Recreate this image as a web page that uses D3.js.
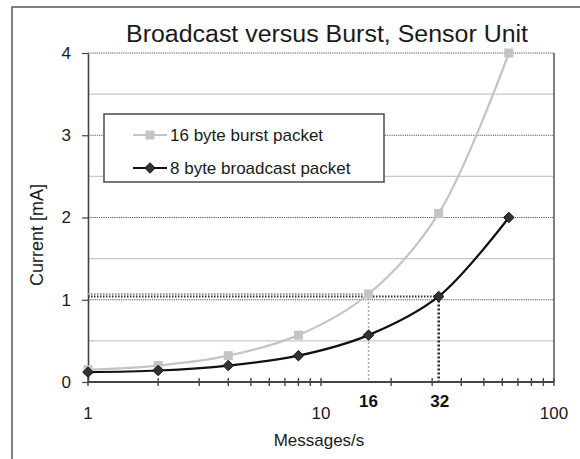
<!DOCTYPE html>
<html>
<head>
<meta charset="utf-8">
<script src="https://cdn.jsdelivr.net/npm/d3@7"></script>
<style>
  body { margin: 0; background: #fff; }
  svg text { font-family: "Liberation Sans", Arial, sans-serif; }
</style>
</head>
<body>
<script>
let W = 580, H = 459;

// data
let rates = [1, 2, 4, 8, 16, 32, 64];
let burst = [0.15, 0.2, 0.32, 0.57, 1.07, 2.05, 4.0];
let broadcast = [0.12, 0.14, 0.2, 0.32, 0.57, 1.04, 2.0];
let seriesNames = ["16 byte burst packet", "8 byte broadcast packet"];
let yTicks = [0, 1, 2, 3, 4];
let yMinor = [0.5, 1.5, 2.5, 3.5];
let xLabels = [1, 10, 100];
let xMinor = [2, 3, 4, 5, 6, 7, 8, 9, 20, 30, 40, 50, 60, 70, 80, 90];
let marked = [16, 32];

let pad = { lef: 88, rig: 554, top: 53, bot: 382 };
let ink = "#1a1a1a";

let svg = d3.select("body").append("svg")
  .attr("width", W).attr("height", H);

// outer frame (runs off right and bottom)
svg.append("rect")
  .attr("x", 12).attr("y", 7)
  .attr("width", W).attr("height", H)
  .attr("fill", "none").attr("stroke", "#555").attr("stroke-width", 1.5);

let xScale = d3.scaleLog().domain([1, 100]).range([pad.lef, pad.rig]);
let yScale = d3.scaleLinear().domain([0, 4]).range([pad.bot, pad.top]);

// minor gridlines
svg.append("g").selectAll("line").data(yMinor).enter().append("line")
  .attr("x1", pad.lef).attr("x2", pad.rig)
  .attr("y1", d => yScale(d)).attr("y2", d => yScale(d))
  .attr("stroke", "#c8c8c8").attr("stroke-width", 1.3);

// major gridlines
svg.append("g").selectAll("line").data(yTicks.slice(1)).enter().append("line")
  .attr("x1", pad.lef).attr("x2", pad.rig)
  .attr("y1", d => yScale(d)).attr("y2", d => yScale(d))
  .attr("stroke", "#555").attr("stroke-width", 1.2)
  .attr("stroke-dasharray", "1.2,1");

// right border
svg.append("line")
  .attr("x1", pad.rig).attr("x2", pad.rig)
  .attr("y1", pad.top).attr("y2", pad.bot)
  .attr("stroke", "#555").attr("stroke-width", 1.5);

// y axis
let yAxis = svg.append("g")
  .attr("transform", "translate(" + pad.lef + ",0)")
  .call(d3.axisLeft(yScale).tickValues(yTicks).tickFormat(d3.format("d"))
    .tickSize(6).tickSizeOuter(0).tickPadding(11));
yAxis.attr("font-family", null).attr("font-size", null);
yAxis.select(".domain").attr("stroke", "#444").attr("stroke-width", 1.6);
yAxis.selectAll(".tick line").attr("stroke", "#444").attr("stroke-width", 1.2);
yAxis.selectAll("text").attr("font-size", 17).attr("fill", ink);

// highlight guides
let i16 = rates.indexOf(16), i32 = rates.indexOf(32);
svg.append("line")
  .attr("x1", pad.lef).attr("x2", xScale(16))
  .attr("y1", yScale(burst[i16])).attr("y2", yScale(burst[i16]))
  .attr("stroke", "#999").attr("stroke-width", 2).attr("stroke-dasharray", "1.5,1.5");
svg.append("line")
  .attr("x1", xScale(16)).attr("x2", xScale(16))
  .attr("y1", yScale(burst[i16])).attr("y2", pad.bot)
  .attr("stroke", "#aaa").attr("stroke-width", 1.5).attr("stroke-dasharray", "2,2");
svg.append("line")
  .attr("x1", pad.lef).attr("x2", xScale(32))
  .attr("y1", yScale(broadcast[i32])).attr("y2", yScale(broadcast[i32]))
  .attr("stroke", "#333").attr("stroke-width", 2).attr("stroke-dasharray", "1.5,1.5");
svg.append("line")
  .attr("x1", xScale(32)).attr("x2", xScale(32))
  .attr("y1", yScale(broadcast[i32])).attr("y2", pad.bot)
  .attr("stroke", "#222").attr("stroke-width", 2.5).attr("stroke-dasharray", "2,2");

// x axis
svg.append("line")
  .attr("x1", pad.lef).attr("x2", pad.rig)
  .attr("y1", pad.bot).attr("y2", pad.bot)
  .attr("stroke", "#444").attr("stroke-width", 1.8);
svg.append("g").selectAll("line").data(xLabels.concat(xMinor)).enter().append("line")
  .attr("x1", d => xScale(d)).attr("x2", d => xScale(d))
  .attr("y1", pad.bot - 4).attr("y2", pad.bot + 4)
  .attr("stroke", "#444").attr("stroke-width", 1.4);
svg.append("g").selectAll("text").data(xLabels).enter().append("text")
  .attr("x", d => xScale(d)).attr("y", pad.bot + 37)
  .attr("text-anchor", "middle").attr("font-size", 17).attr("fill", ink)
  .text(d => d);
svg.append("g").selectAll("text").data(marked).enter().append("text")
  .attr("x", d => xScale(d) + (d === 32 ? 1 : 0)).attr("y", pad.bot + 25)
  .attr("text-anchor", "middle").attr("font-size", 17).attr("font-weight", "bold").attr("fill", "#111")
  .text(d => d);

// lines
let line = d3.line()
  .x(d => xScale(d[0])).y(d => yScale(d[1]))
  .curve(d3.curveCatmullRom.alpha(0.5));

let burstPts = rates.map((r, i) => [r, burst[i]]);
let bcPts = rates.map((r, i) => [r, broadcast[i]]);

svg.append("path").datum(burstPts).attr("d", line)
  .attr("fill", "none").attr("stroke", "#c4c4c4").attr("stroke-width", 2.2);
svg.append("g").selectAll("rect").data(burstPts).enter().append("rect")
  .attr("x", d => xScale(d[0]) - 4.5).attr("y", d => yScale(d[1]) - 4.5)
  .attr("width", 9).attr("height", 9).attr("fill", "#c4c4c4");

svg.append("path").datum(bcPts).attr("d", line)
  .attr("fill", "none").attr("stroke", "#111").attr("stroke-width", 2.2);
let diamond = d3.symbol().type(d3.symbolDiamond2).size(70);
svg.append("g").selectAll("path").data(bcPts).enter().append("path")
  .attr("d", diamond)
  .attr("transform", d => "translate(" + xScale(d[0]) + "," + yScale(d[1]) + ")")
  .attr("fill", "#333").attr("stroke", "#111").attr("stroke-width", 1);

// legend
let lg = svg.append("g");
lg.append("rect").attr("x", 104).attr("y", 114).attr("width", 280).attr("height", 68)
  .attr("fill", "#fff").attr("stroke", "#555").attr("stroke-width", 1.6);
let legendRows = [
  { name: seriesNames[0], color: "#c4c4c4", y: 135 },
  { name: seriesNames[1], color: "#111", y: 168 }
];
legendRows.forEach((r, i) => {
  lg.append("line").attr("x1", 133).attr("x2", 167).attr("y1", r.y).attr("y2", r.y)
    .attr("stroke", r.color).attr("stroke-width", 2.2);
  if (i === 0) {
    lg.append("rect").attr("x", 145.5).attr("y", r.y - 4.5).attr("width", 9).attr("height", 9)
      .attr("fill", r.color);
  } else {
    lg.append("path").attr("d", diamond).attr("transform", "translate(150," + r.y + ")")
      .attr("fill", "#333").attr("stroke", "#111");
  }
  lg.append("text").attr("x", 170).attr("y", r.y + 6)
    .attr("font-size", 17).attr("fill", ink).text(r.name);
});

// titles
svg.append("text").attr("x", 327).attr("y", 42)
  .attr("text-anchor", "middle").attr("font-size", 23).attr("fill", ink)
  .attr("textLength", 402).attr("lengthAdjust", "spacingAndGlyphs")
  .text("Broadcast versus Burst, Sensor Unit");
svg.append("text").attr("x", 319).attr("y", 446)
  .attr("text-anchor", "middle").attr("font-size", 17).attr("fill", ink)
  .text("Messages/s");
svg.append("text")
  .attr("transform", "translate(43,235) rotate(-90)")
  .attr("text-anchor", "middle").attr("font-size", 18).attr("fill", ink)
  .text("Current [mA]");
</script>
</body>
</html>
